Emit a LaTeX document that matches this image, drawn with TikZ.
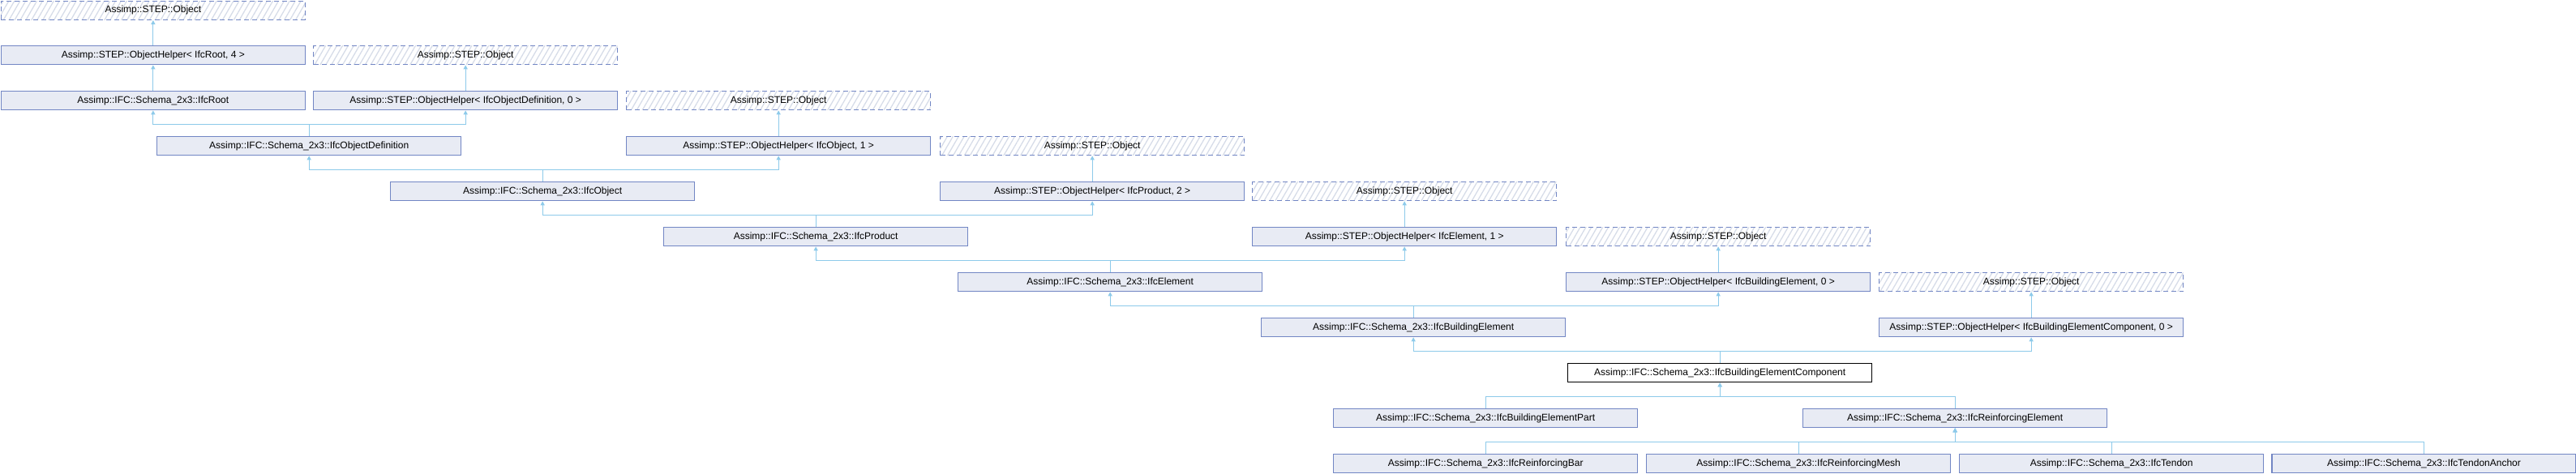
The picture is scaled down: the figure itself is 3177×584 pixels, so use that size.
\documentclass[tikz,border=0pt]{standalone}
\usepackage{fontspec}
\setmainfont{Liberation Sans}
\usetikzlibrary{arrows.meta,patterns.meta}
\definecolor{boxfill}{HTML}{E8EBF4}
\definecolor{boxdraw}{HTML}{7286C4}
\definecolor{conncol}{HTML}{8DCAEA}
\definecolor{hatchcol}{HTML}{D6DCE8}
\tikzset{
 cls/.style={draw=boxdraw, fill=boxfill, line width=1.3pt, minimum width=375pt, minimum height=23pt, inner sep=0pt, anchor=north west, font=\fontsize{12}{14}\selectfont},
 ext/.style={cls, fill=none, dash pattern=on 6pt off 4pt, pattern={Lines[angle=60,distance=6pt,line width=1.3pt]}, pattern color=hatchcol},
 cur/.style={cls, draw=black, fill=white},
 conn/.style={draw=conncol, line width=1.2pt, <-, >={Triangle[length=5pt,width=5pt]}},
}
\begin{document}
\begin{tikzpicture}[x=1pt,y=-1pt]
\useasboundingbox (0,0) rectangle (3177,584);
\node[ext] (o0) at (0.7,0.7) {Assimp::STEP::Object};
\node[cls] (hroot) at (0.7,56) {Assimp::STEP::ObjectHelper< IfcRoot, 4 >};
\node[ext] (o1) at (386,56) {Assimp::STEP::Object};
\node[cls] (root) at (0.7,112) {Assimp::IFC::Schema\_2x3::IfcRoot};
\node[cls] (hobjdef) at (386,112) {Assimp::STEP::ObjectHelper< IfcObjectDefinition, 0 >};
\node[ext] (o2) at (772,112) {Assimp::STEP::Object};
\node[cls] (objdef) at (193,168) {Assimp::IFC::Schema\_2x3::IfcObjectDefinition};
\node[cls] (hobj) at (772,168) {Assimp::STEP::ObjectHelper< IfcObject, 1 >};
\node[ext] (o3) at (1159,168) {Assimp::STEP::Object};
\node[cls] (obj) at (481,224) {Assimp::IFC::Schema\_2x3::IfcObject};
\node[cls] (hprod) at (1159,224) {Assimp::STEP::ObjectHelper< IfcProduct, 2 >};
\node[ext] (o4) at (1544,224) {Assimp::STEP::Object};
\node[cls] (prod) at (818,280) {Assimp::IFC::Schema\_2x3::IfcProduct};
\node[cls] (helem) at (1544,280) {Assimp::STEP::ObjectHelper< IfcElement, 1 >};
\node[ext] (o5) at (1931,280) {Assimp::STEP::Object};
\node[cls] (elem) at (1181,336) {Assimp::IFC::Schema\_2x3::IfcElement};
\node[cls] (hbelem) at (1931,336) {Assimp::STEP::ObjectHelper< IfcBuildingElement, 0 >};
\node[ext] (o6) at (2317,336) {Assimp::STEP::Object};
\node[cls] (belem) at (1555,392) {Assimp::IFC::Schema\_2x3::IfcBuildingElement};
\node[cls] (hbec) at (2317,392) {Assimp::STEP::ObjectHelper< IfcBuildingElementComponent, 0 >};
\node[cur] (bec) at (1933,448) {Assimp::IFC::Schema\_2x3::IfcBuildingElementComponent};
\node[cls] (bepart) at (1644,504) {Assimp::IFC::Schema\_2x3::IfcBuildingElementPart};
\node[cls] (relem) at (2223,504) {Assimp::IFC::Schema\_2x3::IfcReinforcingElement};
\node[cls] (rbar) at (1644,560) {Assimp::IFC::Schema\_2x3::IfcReinforcingBar};
\node[cls] (rmesh) at (2030,560) {Assimp::IFC::Schema\_2x3::IfcReinforcingMesh};
\node[cls] (tendon) at (2416,560) {Assimp::IFC::Schema\_2x3::IfcTendon};
\node[cls] (tanchor) at (2801.3,560) {Assimp::IFC::Schema\_2x3::IfcTendonAnchor};
% single parents
\draw[conn] (o0.south) -- (hroot.north);
\draw[conn] (hroot.south) -- (root.north);
\draw[conn] (o1.south) -- (hobjdef.north);
\draw[conn] (o2.south) -- (hobj.north);
\draw[conn] (o3.south) -- (hprod.north);
\draw[conn] (o4.south) -- (helem.north);
\draw[conn] (o5.south) -- (hbelem.north);
\draw[conn] (o6.south) -- (hbec.north);
% two parents
\draw[conn] (root.south) -- ++(0,17) -| (objdef.north);
\draw[conn] (hobjdef.south) -- ++(0,17) -| (objdef.north);
\draw[conn] (objdef.south) -- ++(0,17) -| (obj.north);
\draw[conn] (hobj.south) -- ++(0,17) -| (obj.north);
\draw[conn] (obj.south) -- ++(0,17) -| (prod.north);
\draw[conn] (hprod.south) -- ++(0,17) -| (prod.north);
\draw[conn] (prod.south) -- ++(0,17) -| (elem.north);
\draw[conn] (helem.south) -- ++(0,17) -| (elem.north);
\draw[conn] (elem.south) -- ++(0,17) -| (belem.north);
\draw[conn] (hbelem.south) -- ++(0,17) -| (belem.north);
\draw[conn] (belem.south) -- ++(0,17) -| (bec.north);
\draw[conn] (hbec.south) -- ++(0,17) -| (bec.north);
% children
\draw[conn] (bec.south) -- ++(0,17) -| (bepart.north);
\draw[conn] (bec.south) -- ++(0,17) -| (relem.north);
\draw[conn] (relem.south) -- ++(0,17) -| (rbar.north);
\draw[conn] (relem.south) -- ++(0,17) -| (rmesh.north);
\draw[conn] (relem.south) -- ++(0,17) -| (tendon.north);
\draw[conn] (relem.south) -- ++(0,17) -| (tanchor.north);
\end{tikzpicture}
\end{document}
